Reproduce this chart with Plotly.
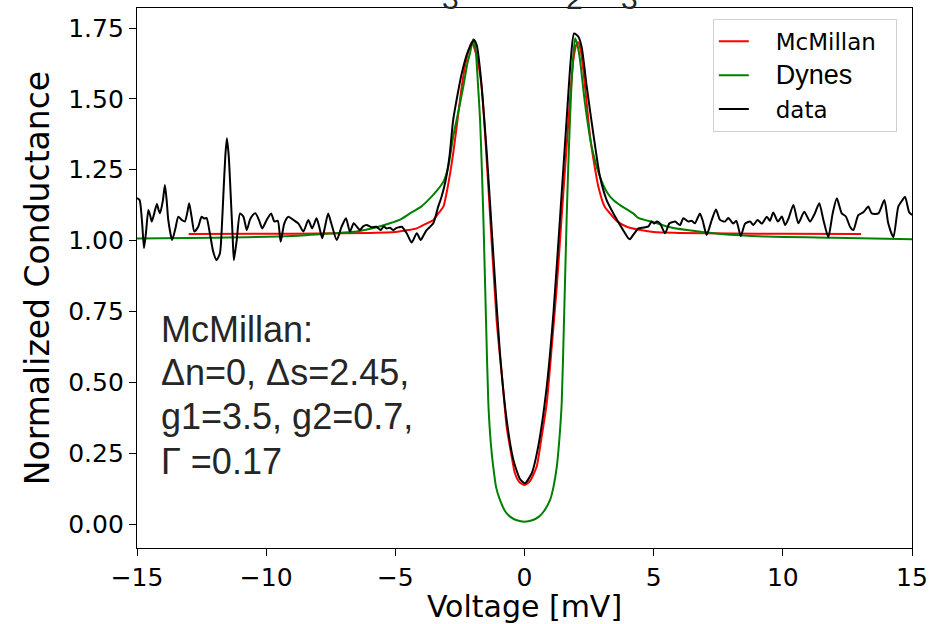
import plotly.graph_objects as go

# ---- measured data (black) ----
data_v = [-15.0, -14.9, -14.8, -14.73, -14.65, -14.56, -14.48, -14.43, -14.35, -14.23, -14.17, -14.11,
          -14.0, -13.92, -13.85, -13.79, -13.64, -13.52, -13.40, -13.27, -13.15, -13.05, -12.98, -12.88,
          -12.78, -12.63, -12.50, -12.40, -12.31, -12.18, -12.05, -11.92, -11.79, -11.72, -11.66, -11.58,
          -11.52, -11.45, -11.37, -11.30, -11.25, -11.14, -11.01, -10.88, -10.75, -10.63, -10.52, -10.41,
          -10.28, -10.15, -9.98, -9.81, -9.68, -9.55, -9.44, -9.30, -9.14, -8.95, -8.75, -8.56, -8.37,
          -8.22, -8.05, -7.95, -7.83, -7.72, -7.60, -7.48, -7.27, -7.08, -6.91, -6.76, -6.61, -6.50,
          -6.37, -6.25, -6.11, -5.92, -5.73, -5.57, -5.45, -5.34, -5.20, -5.08, -4.95, -4.85, -4.75,
          -4.56, -4.37, -4.17, -4.02, -3.90, -3.79, -3.53, -3.34, -3.21, -3.05, -2.90, -2.76, -2.43,
          -2.17, -1.955, -1.85, -1.72, -1.46, -1.21, -0.95, -0.69, -0.43, -0.17, 0.02, 0.28, 0.53, 0.86,
          1.12, 1.37, 1.63, 1.79, 1.92, 2.08, 2.21, 2.41, 2.66, 2.92, 3.18, 3.44, 3.70, 3.89, 4.02,
          4.08, 4.21, 4.41, 4.54, 4.67, 4.80, 4.92, 5.02, 5.12, 5.25, 5.44, 5.61, 5.72, 5.83, 6.02,
          6.15, 6.34, 6.47, 6.60, 6.79, 6.90, 7.05, 7.25, 7.41, 7.57, 7.76, 7.89, 8.08, 8.20, 8.37,
          8.54, 8.73, 8.86, 9.02, 9.19, 9.38, 9.50, 9.63, 9.81, 9.96, 10.09, 10.22, 10.41, 10.60,
          10.83, 11.05, 11.24, 11.41, 11.57, 11.76, 11.93, 12.09, 12.28, 12.44, 12.60, 12.73, 12.92,
          13.12, 13.31, 13.44, 13.70, 13.93, 14.08, 14.28, 14.47, 14.63, 14.73, 14.89, 15.0]
data_g = [1.150, 1.143, 1.060, 0.973, 1.030, 1.108, 1.085, 1.067, 1.090, 1.129, 1.110, 1.096,
          1.140, 1.196, 1.140, 1.073, 1.002, 1.040, 1.084, 1.073, 1.067, 1.100, 1.132, 1.080,
          1.032, 1.049, 1.084, 1.078, 1.080, 1.026, 0.961, 0.931, 0.955, 1.040, 1.155, 1.300,
          1.361, 1.300, 1.155, 1.020, 0.931, 1.002, 1.096, 1.084, 1.037, 1.073, 1.090, 1.096,
          1.073, 1.043, 1.073, 1.096, 1.067, 1.070, 0.996, 1.060, 1.084, 1.073, 1.060, 1.032, 1.073,
          1.043, 1.079, 1.050, 1.008, 1.050, 1.096, 1.061, 1.002, 1.049, 1.079, 1.032, 1.061, 1.050,
          1.037, 1.050, 1.055, 1.047, 1.049, 1.037, 1.050, 1.043, 1.045, 1.037, 1.045, 1.047, 1.049,
          1.026, 0.993, 1.026, 1.002, 1.020, 1.037, 1.061, 1.120, 1.155, 1.214, 1.300, 1.426, 1.590,
          1.672, 1.708, 1.690, 1.602, 1.308, 0.955, 0.602, 0.367, 0.226, 0.158, 0.144, 0.179, 0.273, 0.484,
          0.743, 1.073, 1.426, 1.637, 1.731, 1.720, 1.684, 1.543, 1.379, 1.226, 1.143, 1.096, 1.055, 1.026, 1.008,
          1.005, 1.020, 1.043, 1.045, 1.047, 1.050, 1.067, 1.060, 1.067, 1.060, 1.026, 1.061, 1.065, 1.067, 1.055,
          1.079, 1.067, 1.070, 1.061, 1.096, 1.070, 1.020, 1.073, 1.110, 1.073, 1.067, 1.080, 1.060, 1.070, 1.016,
          1.060, 1.067, 1.055, 1.073, 1.060, 1.084, 1.070, 1.099, 1.067, 1.085, 1.055, 1.078, 1.126, 1.061,
          1.102, 1.067, 1.096, 1.132, 1.073, 1.012, 1.096, 1.149, 1.096, 1.085, 1.049, 1.037, 1.090,
          1.100, 1.120, 1.096, 1.096, 1.143, 1.061, 1.012, 1.120, 1.143, 1.155, 1.100, 1.090]

# ---- McMillan fit (red) ----
mcm_v = [-13.0, -10.0, -8.0, -6.0, -5.0, -4.5, -4.17, -3.8, -3.53, -3.3, -3.14, -2.95, -2.76, -2.6,
         -2.43, -2.25, -2.04, -1.85, -1.66, -1.40, -1.08, -0.85, -0.69, -0.5, -0.37, -0.2, 0.0, 0.2,
         0.47, 0.65, 0.86, 1.05, 1.25, 1.45, 1.63, 1.78, 1.89, 2.0, 2.08, 2.18, 2.28, 2.54, 2.70,
         2.86, 3.1, 3.31, 3.6, 3.96, 4.5, 5.0, 6.0, 8.0, 10.0, 13.03]
mcm_g = [1.023, 1.024, 1.025, 1.027, 1.030, 1.037, 1.043, 1.060, 1.073, 1.100, 1.120, 1.200, 1.308, 1.420,
         1.543, 1.640, 1.700, 1.650, 1.543, 1.190, 0.720, 0.500, 0.343, 0.240, 0.179, 0.148, 0.138, 0.150,
         0.202, 0.300, 0.426, 0.620, 0.837, 1.100, 1.331, 1.520, 1.637, 1.690, 1.700, 1.670, 1.600, 1.367, 1.270,
         1.190, 1.120, 1.096, 1.067, 1.049, 1.037, 1.030, 1.027, 1.025, 1.024, 1.023]

# ---- Dynes fit (green) ----
dyn_v = [-15.0, -12.0, -9.0, -7.5, -6.5, -5.8, -5.21, -4.8, -4.43, -4.0, -3.66, -3.4, -3.14, -2.95,
         -2.76, -2.55, -2.37, -2.2, -2.11, -1.99, -1.9, -1.80, -1.72, -1.65, -1.59, -1.49, -1.40, -1.30,
         -1.21, -1.1, -0.95, -0.75, -0.56, -0.3, 0.0, 0.3, 0.56, 0.75, 0.99, 1.12, 1.25, 1.35, 1.44,
         1.53, 1.63, 1.69, 1.76, 1.85, 1.96, 2.05, 2.15, 2.34, 2.60, 2.92, 3.2, 3.44, 3.7, 4.21, 4.4,
         5.0, 5.5, 6.3, 7.6, 9.4, 12.0, 15.0]
dyn_g = [1.007, 1.010, 1.016, 1.025, 1.032, 1.045, 1.061, 1.075, 1.096, 1.120, 1.149, 1.175, 1.208, 1.260,
         1.367, 1.460, 1.543, 1.630, 1.661, 1.710, 1.680, 1.550, 1.426, 1.250, 1.073, 0.720, 0.426, 0.280,
         0.202, 0.130, 0.085, 0.045, 0.026, 0.013, 0.008, 0.013, 0.026, 0.045, 0.085, 0.130, 0.202, 0.300, 0.426,
         0.720, 1.073, 1.250, 1.426, 1.600, 1.714, 1.690, 1.637, 1.485, 1.331, 1.226, 1.170, 1.143, 1.125, 1.096, 1.080,
         1.065, 1.050, 1.037, 1.023, 1.014, 1.010, 1.005]

x_ticks = [-15, -10, -5, 0, 5, 10, 15]
y_ticks = [0.0, 0.25, 0.5, 0.75, 1.0, 1.25, 1.5, 1.75]

note_lines = ["McMillan:", "Δn=0, Δs=2.45,", "g1=3.5, g2=0.7,", "Γ =0.17"]
title_frag = ["3", "2", "3"]

pad = "\u00a0\u00a0\u00a0"
tail = "\u00a0\u00a0"

fig = go.Figure()
fig.add_trace(go.Scatter(x=mcm_v, y=mcm_g, mode="lines", name=pad + "McMillan" + tail, legendgroup="a",
                         line=dict(color="#ff0000", width=2, shape="spline", smoothing=0.6)))
fig.add_trace(go.Scatter(x=dyn_v, y=dyn_g, mode="lines", legendgroup="b",
                         name=pad + "<span style='font-family:Liberation Sans;font-size:27px'>Dynes</span>",
                         line=dict(color="#008000", width=2, shape="spline", smoothing=0.6)))
fig.add_trace(go.Scatter(x=data_v, y=data_g, mode="lines", name=pad + "data", legendgroup="c",
                         line=dict(color="#000000", width=2, shape="spline", smoothing=0.6)))

axis_common = dict(showgrid=False, zeroline=False, showline=True, linecolor="black", linewidth=1.3,
                   mirror=True, ticks="outside", ticklen=7, tickwidth=1.3, tickcolor="black",
                   tickfont=dict(family="DejaVu Sans", size=25, color="black"))

fig.update_layout(
    width=948, height=624,
    margin=dict(l=137, r=36, t=8, b=76, autoexpand=False),
    plot_bgcolor="white", paper_bgcolor="white",
    xaxis=dict(range=[-15, 15], tickvals=x_ticks, **axis_common,
               title=dict(text="Voltage [mV]", font=dict(family="DejaVu Sans", size=30, color="black"),
                          standoff=3)),
    yaxis=dict(range=[-0.0847, 1.8207], tickvals=y_ticks, tickformat=".2f", **axis_common,
               title=dict(text="Normalized Conductance", font=dict(family="DejaVu Sans", size=33, color="black"),
                          standoff=8)),
    legend=dict(x=0.743, y=0.98, xanchor="left", yanchor="top",
                font=dict(family="DejaVu Sans", size=23, color="black"),
                bgcolor="rgba(255,255,255,0.9)", bordercolor="#d0d0d0", borderwidth=1,
                tracegroupgap=1, traceorder="grouped"),
    showlegend=True,
)

note_y = [0.685, 0.533, 0.381, 0.222]
for txt, yy in zip(note_lines, note_y):
    fig.add_annotation(x=-14.15, y=yy, xref="x", yref="y", text=txt, showarrow=False,
                       xanchor="left", yanchor="middle",
                       font=dict(family="Liberation Sans", size=36, color="#262626"))

for txt, xx in zip(title_frag, [-2.88, 1.95, 4.08]):
    fig.add_annotation(x=xx, y=1, xref="x", yref="paper", text=txt, showarrow=False,
                       xanchor="center", yanchor="bottom", yshift=-9,
                       font=dict(family="Liberation Sans", size=30, color="#262626"))

fig.write_html("out.html")
